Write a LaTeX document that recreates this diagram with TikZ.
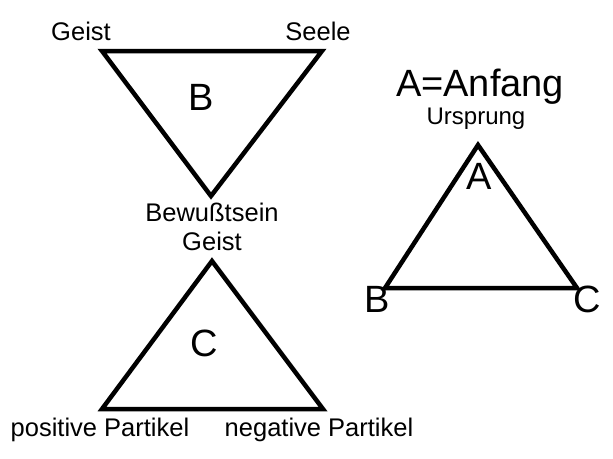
\documentclass[tikz,border=0pt]{standalone}
\usepackage{fontspec}
\setmainfont{Liberation Sans}
\begin{document}
\begin{tikzpicture}[x=1pt,y=-1pt,
  tri/.style={line width=4.5pt,line join=miter},
  lbl/.style={inner sep=0pt,font=\fontsize{25.5}{25.5}\selectfont},
  big/.style={inner sep=0pt,font=\fontsize{38}{38}\selectfont},
  sml/.style={inner sep=0pt,font=\fontsize{24}{24}\selectfont}]
\useasboundingbox (0,0) rectangle (613,458);
% Triangle B (inverted)
\coordinate (b1) at (102,51);
\coordinate (b2) at (322,51);
\coordinate (b3) at (211,196);
\draw[tri] (b1) -- (b2) -- (b3) -- cycle;
\node[lbl] (geist1) at (81,31) {Geist};
\node[lbl] (seele) at (318,31) {Seele};
\node[big] (Blab) at (201,97) {B};
\node[lbl] (bew) at (212,212) {Bewußtsein};
% Triangle C
\coordinate (c1) at (212,261);
\coordinate (c2) at (102,409);
\coordinate (c3) at (323,409);
\draw[tri] (c1) -- (c2) -- (c3) -- cycle;
\node[lbl] (geist2) at (212,241) {Geist};
\node[big] (Clab) at (204,343) {C};
\node[lbl] (pos) at (100,430) {positive Partikel};
\node[lbl] (neg) at (319,430) {negative Partikel};
% Triangle A
\coordinate (a1) at (478,145);
\coordinate (a2) at (385,288);
\coordinate (a3) at (577,288);
\draw[tri] (a1) -- (a2) -- (a3) -- cycle;
\node[big] (anf) at (480,86.5) {A=Anfang};
\node[sml] (urs) at (476,119) {Ursprung};
\node[big] (Alab) at (479,176) {A};
\node[big] (Bv) at (377,299) {B};
\node[big] (Cv) at (587,299) {C};
\end{tikzpicture}
\end{document}
